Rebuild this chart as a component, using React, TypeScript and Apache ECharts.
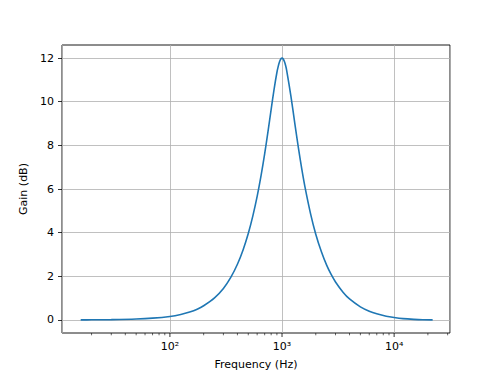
import React, { useEffect, useRef } from "react";
import * as echarts from "echarts";

// Frequencies (Hz) and gains (dB)
const frequencies = [
  16, 20, 30, 50, 70, 100, 125, 150, 175, 200, 250, 300, 350, 400, 450, 500, 550, 600, 650, 700,
  750, 800, 850, 900, 925, 950, 975, 1000, 1025, 1050, 1075, 1100, 1200, 1300, 1400, 1500, 1600,
  1800, 2000, 2250, 2500, 2750, 3000, 3500, 4000, 5000, 6000, 7000, 8500, 10000, 12000, 15000,
  18000, 22050,
];
const gains = [
  0.0, 0.006, 0.015, 0.04, 0.08, 0.16, 0.25, 0.36, 0.49, 0.65, 1.01, 1.44, 1.96, 2.55, 3.22, 3.96,
  4.78, 5.66, 6.61, 7.61, 8.64, 9.65, 10.58, 11.34, 11.62, 11.83, 11.96, 12.0, 11.96, 11.84, 11.67,
  11.44, 10.26, 9.01, 7.88, 6.92, 6.11, 4.85, 3.93, 3.11, 2.51, 2.07, 1.74, 1.27, 0.96, 0.6, 0.4,
  0.28, 0.17, 0.11, 0.06, 0.025, 0.007, 0.0,
];

const xMajorTicks = [100, 1000, 10000];
const xMajorLabels = ["10²", "10³", "10⁴"];
const xMinorTicks = [
  20, 30, 40, 50, 60, 70, 80, 90, 200, 300, 400, 500, 600, 700, 800, 900, 2000, 3000, 4000, 5000,
  6000, 7000, 8000, 9000, 20000, 30000,
];
const yTicks = [0, 2, 4, 6, 8, 10, 12];

const FONT = "DejaVu Sans";

export default function App() {
  const ref = useRef<HTMLDivElement>(null);

  useEffect(() => {
    if (!ref.current) return;
    const chart = echarts.init(ref.current, null, { renderer: "svg" });
    const lineData = frequencies.map((f, i) => [f, gains[i]]);
    const tickData = [...xMajorTicks, ...xMinorTicks].map((f) => [f, 0]);

    chart.setOption({
      animation: false,
      backgroundColor: "#ffffff",
      grid: {
        left: 62,
        top: 45,
        right: 50,
        bottom: 42,
        show: true,
        borderColor: "#000000",
        borderWidth: 0.9,
        backgroundColor: "transparent",
      },
      xAxis: {
        type: "log",
        logBase: 10,
        min: 10.9,
        max: 31500,
        name: "Frequency (Hz)",
        nameLocation: "middle",
        nameGap: 26,
        nameTextStyle: { fontFamily: FONT, fontSize: 11, color: "#000" },
        axisLine: { show: false },
        axisTick: { show: false },
        minorTick: { show: false },
        splitLine: { show: true, lineStyle: { color: "#b0b0b0", width: 0.8 } },
        axisLabel: {
          showMinLabel: false,
          showMaxLabel: false,
          margin: 8,
          fontFamily: FONT,
          fontSize: 11,
          color: "#000",
          formatter: (v: number) => {
            const idx = xMajorTicks.findIndex((t) => Math.abs(Math.log10(t) - Math.log10(v)) < 1e-6);
            return idx >= 0 ? xMajorLabels[idx] : "";
          },
        },
      },
      yAxis: {
        type: "value",
        min: -0.6,
        max: 12.6,
        splitNumber: 6,
        name: "Gain (dB)",
        nameLocation: "middle",
        nameGap: 23,
        nameRotate: 90,
        nameTextStyle: { fontFamily: FONT, fontSize: 11, color: "#000" },
        axisLine: { show: false },
        axisTick: {
          show: true,
          length: 4,
          customValues: yTicks,
          lineStyle: { color: "#000", width: 0.8 },
        },
        splitLine: { show: true, lineStyle: { color: "#b0b0b0", width: 0.8 } },
        axisLabel: {
          customValues: yTicks,
          margin: 8,
          fontFamily: FONT,
          fontSize: 11,
          color: "#000",
        },
      },
      series: [
        {
          type: "line",
          data: lineData,
          smooth: 0.3,
          showSymbol: false,
          lineStyle: { color: "#1f77b4", width: 1.6 },
          z: 3,
        },
        {
          type: "custom",
          clip: false,
          silent: true,
          data: tickData,
          renderItem: (params: any, api: any) => {
            const f = api.value(0);
            const x = api.coord([f, 1])[0];
            const cs = params.coordSys;
            const bottom = cs.y + cs.height;
            const major = xMajorTicks.indexOf(f) >= 0;
            const len = major ? 4 : 2.3;
            return {
              type: "line",
              shape: { x1: x, y1: bottom, x2: x, y2: bottom + len },
              style: { stroke: "#000", lineWidth: major ? 0.8 : 0.6 },
            };
          },
          z: 4,
        },
      ],
    });

    return () => chart.dispose();
  }, []);

  return (
    <div
      ref={ref}
      style={{ position: "fixed", left: 0, top: 0, width: 500, height: 375, background: "#fff" }}
    />
  );
}
